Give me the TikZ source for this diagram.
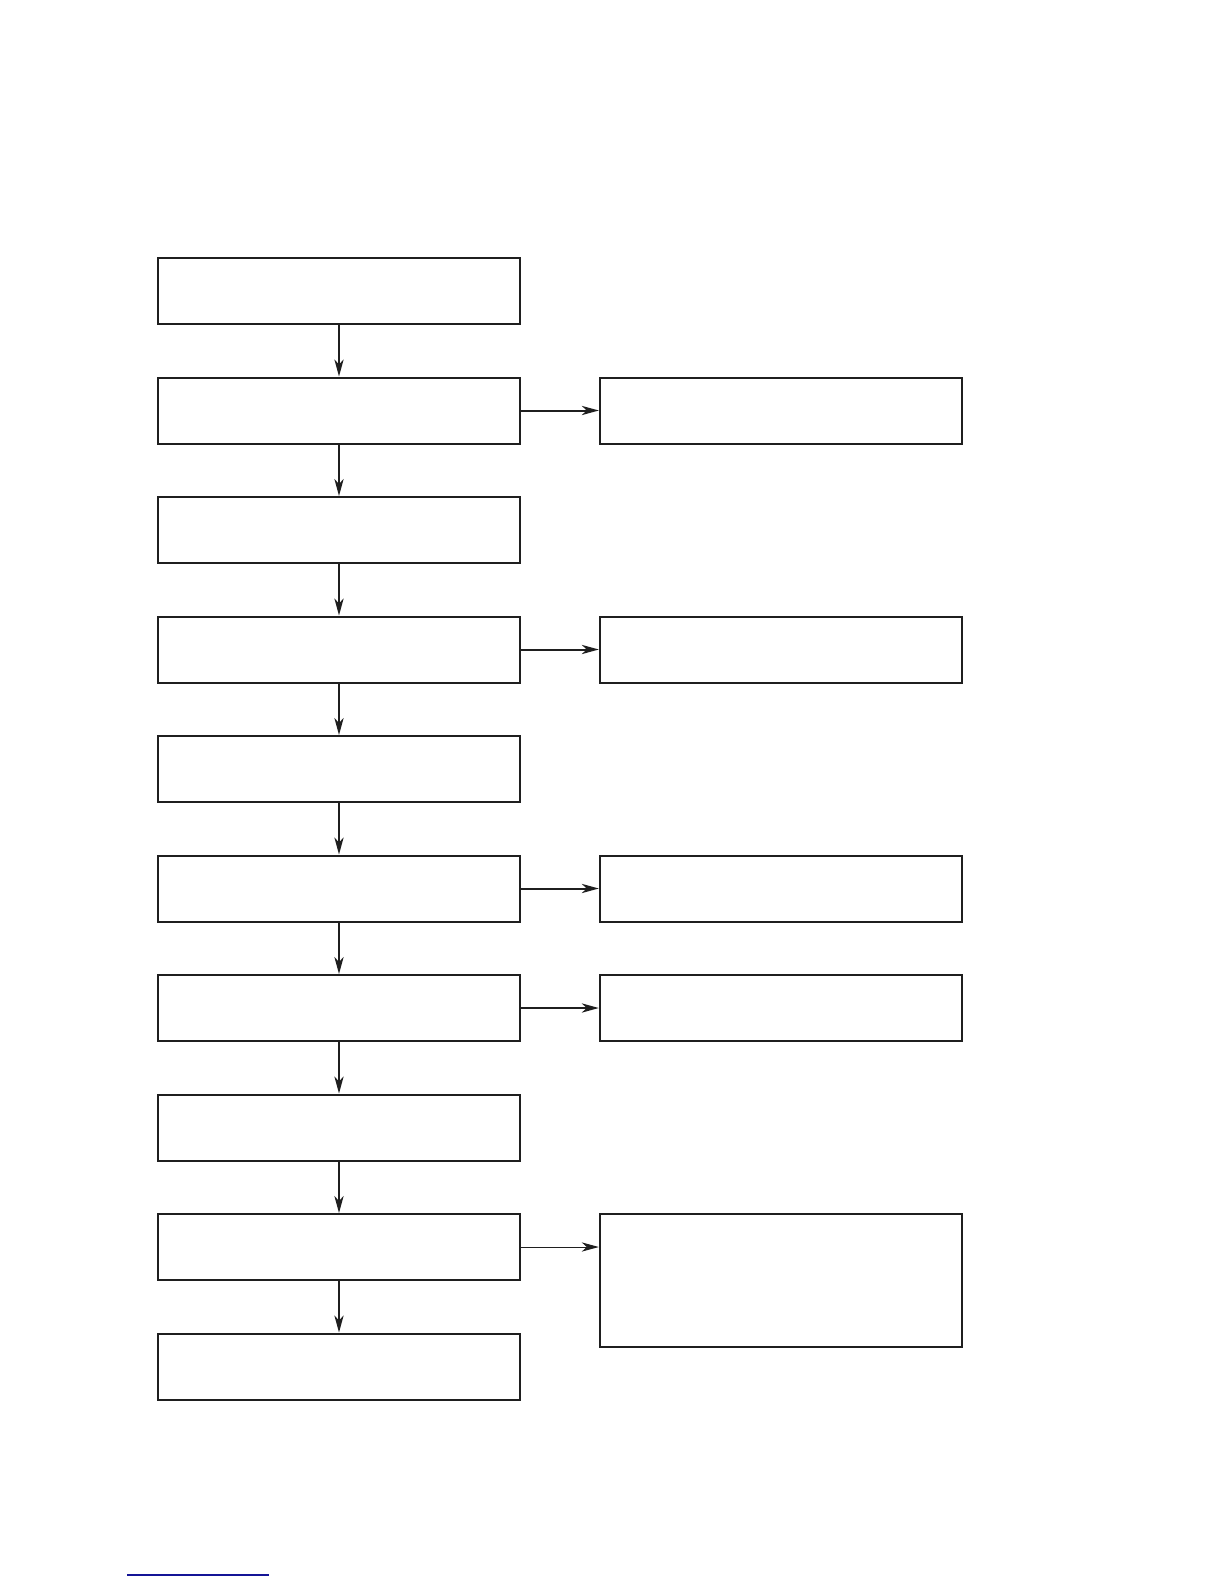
\documentclass[tikz,border=0pt]{standalone}
\usetikzlibrary{arrows.meta}
\begin{document}
\begin{tikzpicture}[x=0.5pt,y=-0.5pt,
  stepbox/.style={draw=black!88, line width=1pt, rectangle, inner sep=0pt, anchor=north west,
    minimum width=181.2pt, minimum height=33pt},
  tallbox/.style={stepbox, minimum height=66.5pt},
  conn/.style={draw=black!88, line width=1pt, -{Stealth[length=8.5pt,width=4.6pt,inset=2.5pt]}},
  thinconn/.style={conn, line width=0.5pt}]
\useasboundingbox (0,0) rectangle (1224,1584);
\fill[white] (0,0) rectangle (1224,1584);
% left column
\node[stepbox] (L1) at (156.8,257) {};
\node[stepbox] (L2) at (156.8,376.5) {};
\node[stepbox] (L3) at (156.8,496) {};
\node[stepbox] (L4) at (156.8,615.5) {};
\node[stepbox] (L5) at (156.8,735) {};
\node[stepbox] (L6) at (156.8,854.5) {};
\node[stepbox] (L7) at (156.8,974) {};
\node[stepbox] (L8) at (156.8,1093.5) {};
\node[stepbox] (L9) at (156.8,1213) {};
\node[stepbox] (L10) at (156.8,1332.5) {};
% right column
\node[stepbox] (R2) at (598.8,376.5) {};
\node[stepbox] (R4) at (598.8,615.5) {};
\node[stepbox] (R6) at (598.8,854.5) {};
\node[stepbox] (R7) at (598.8,974) {};
\node[tallbox] (R9) at (598.8,1213) {};
% vertical connectors
\foreach \a/\b in {L1/L2,L2/L3,L3/L4,L4/L5,L5/L6,L6/L7,L7/L8,L8/L9,L9/L10}
  \draw[conn] (\a.south) -- (\b.north);
% horizontal connectors
\foreach \a/\b in {L2/R2,L4/R4,L6/R6,L7/R7}
  \draw[conn] (\a.east) -- (\b.west);
\draw[thinconn] (L9.east) -- (L9.east -| R9.west);
% blue rule at the bottom
\draw[color={rgb,255:red,20;green,20;blue,150}, line width=0.6pt] (127.3,1575) -- (269,1575);
\end{tikzpicture}
\end{document}
